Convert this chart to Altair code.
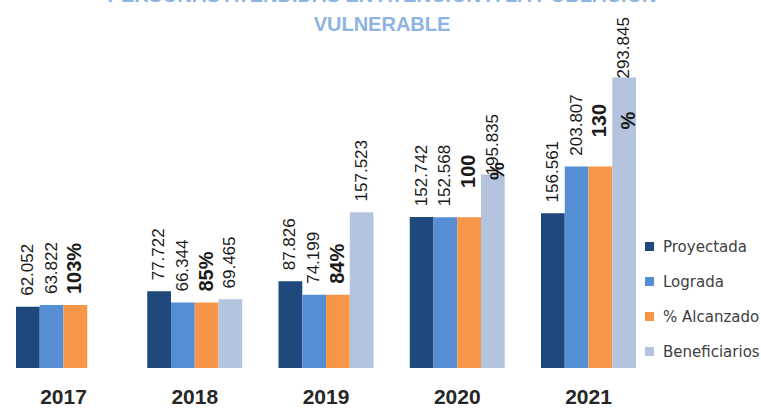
import altair as alt
import pandas as pd

# ---- data ----
years = ["2017", "2018", "2019", "2020", "2021"]
series = ["Proyectada", "Lograda", "% Alcanzado", "Beneficiarios"]
colors = ["#1F497D", "#558ED5", "#F79646", "#B4C4DF"]

proyectada = [62.052, 77.722, 87.826, 152.742, 156.561]
lograda = [63.822, 66.344, 74.199, 152.568, 203.807]
# the orange bars are drawn as high as the "Lograda" bars in the picture
alcanzado_bar = [63.822, 66.344, 74.199, 152.568, 203.807]
alcanzado_labels = ["103%", "85%", "84%", "100\n%", "130\n%"]
beneficiarios = [None, 69.465, 157.523, 195.835, 293.845]

title_lines = ["PERSONAS ATENDIDAS EN ATENCIÓN A LA POBLACIÓN", "VULNERABLE"]


def fmt(v):
    return f"{v:.3f}"


rows = []
for i, yr in enumerate(years):
    rows.append(dict(year=yr, serie="Proyectada", value=proyectada[i], label=fmt(proyectada[i]), kind="num"))
    rows.append(dict(year=yr, serie="Lograda", value=lograda[i], label=fmt(lograda[i]), kind="num"))
    lab = alcanzado_labels[i]
    rows.append(dict(year=yr, serie="% Alcanzado", value=alcanzado_bar[i], label=lab,
                     kind="pct2" if "\n" in lab else "pct1"))
    if beneficiarios[i] is not None:
        rows.append(dict(year=yr, serie="Beneficiarios", value=beneficiarios[i], label=fmt(beneficiarios[i]), kind="num"))
df = pd.DataFrame(rows)

yscale = alt.Scale(domain=[0, 344], nice=False, zero=True)
xenc = alt.X("year:N", sort=years,
             scale=alt.Scale(paddingInner=0.2762, paddingOuter=0.1219),
             axis=alt.Axis(title=None, labelAngle=0, domain=False, ticks=False, grid=False,
                           labelFont="Liberation Sans", labelFontSize=21, labelFontWeight="bold",
                           labelColor="#262626", labelPadding=18))
xoff = alt.XOffset("serie:N", sort=series,
                   scale=alt.Scale(domain=series, paddingInner=0, paddingOuter=0))

base = alt.Chart(df)

bars = base.mark_bar().encode(
    x=xenc,
    xOffset=xoff,
    y=alt.Y("value:Q", scale=yscale, axis=None),
    color=alt.Color("serie:N", sort=series,
                    scale=alt.Scale(domain=series, range=colors),
                    legend=alt.Legend(title=None, orient="none", legendX=642, legendY=211,
                                      symbolType="square", symbolSize=81, symbolStrokeWidth=0,
                                      labelFont="DejaVu Sans", labelFontSize=15, labelColor="#404040",
                                      rowPadding=19, labelOffset=6, padding=0)),
)

num_labels = base.transform_filter("datum.kind == 'num'").transform_calculate(
    label_y="datum.value + ((datum.serie == 'Beneficiarios' && datum.value > 180) ? -1 : 11)"
).mark_text(angle=270, align="left", baseline="middle", font="Liberation Sans",
            fontSize=17, color="#1a1a1a").encode(
    x=alt.X("year:N", sort=years), xOffset=xoff,
    y=alt.Y("label_y:Q", scale=yscale, axis=None),
    text="label:N",
)

pct_labels = base.transform_filter("datum.kind == 'pct1'").transform_calculate(
    label_y="datum.value + 11"
).mark_text(angle=270, align="left", baseline="middle", font="Liberation Sans",
            fontSize=20, fontWeight="bold", color="#1a1a1a").encode(
    x=alt.X("year:N", sort=years), xOffset=xoff,
    y=alt.Y("label_y:Q", scale=yscale, axis=None),
    text="label:N",
)

pct2_labels = base.transform_filter("datum.kind == 'pct2'").transform_calculate(
    label_y="datum.value"
).mark_text(angle=270, align="center", baseline="middle", font="Liberation Sans",
            fontSize=20, fontWeight="bold", color="#1a1a1a", lineBreak="\n",
            lineHeight=29, dx=46).encode(
    x=alt.X("year:N", sort=years), xOffset=xoff,
    y=alt.Y("label_y:Q", scale=yscale, axis=None),
    text="label:N",
)

title = alt.Chart(pd.DataFrame({"t": [0]})).mark_text(
    text=title_lines, font="Liberation Sans", fontSize=20, fontWeight="bold",
    color="#8DB4E2", align="center", baseline="alphabetic", lineHeight=29,
).encode(x=alt.value(382), y=alt.value(-26))

chart = alt.layer(bars, num_labels, pct_labels, pct2_labels, title).properties(
    width=652, height=340,
    autosize=alt.AutoSizeParams(type="none"),
    padding={"left": 0, "top": 28, "right": 109, "bottom": 41},
).configure(background="white").configure_view(stroke=None, strokeWidth=0)

chart.save("out.html", embed_options={"renderer": "svg", "actions": False})
